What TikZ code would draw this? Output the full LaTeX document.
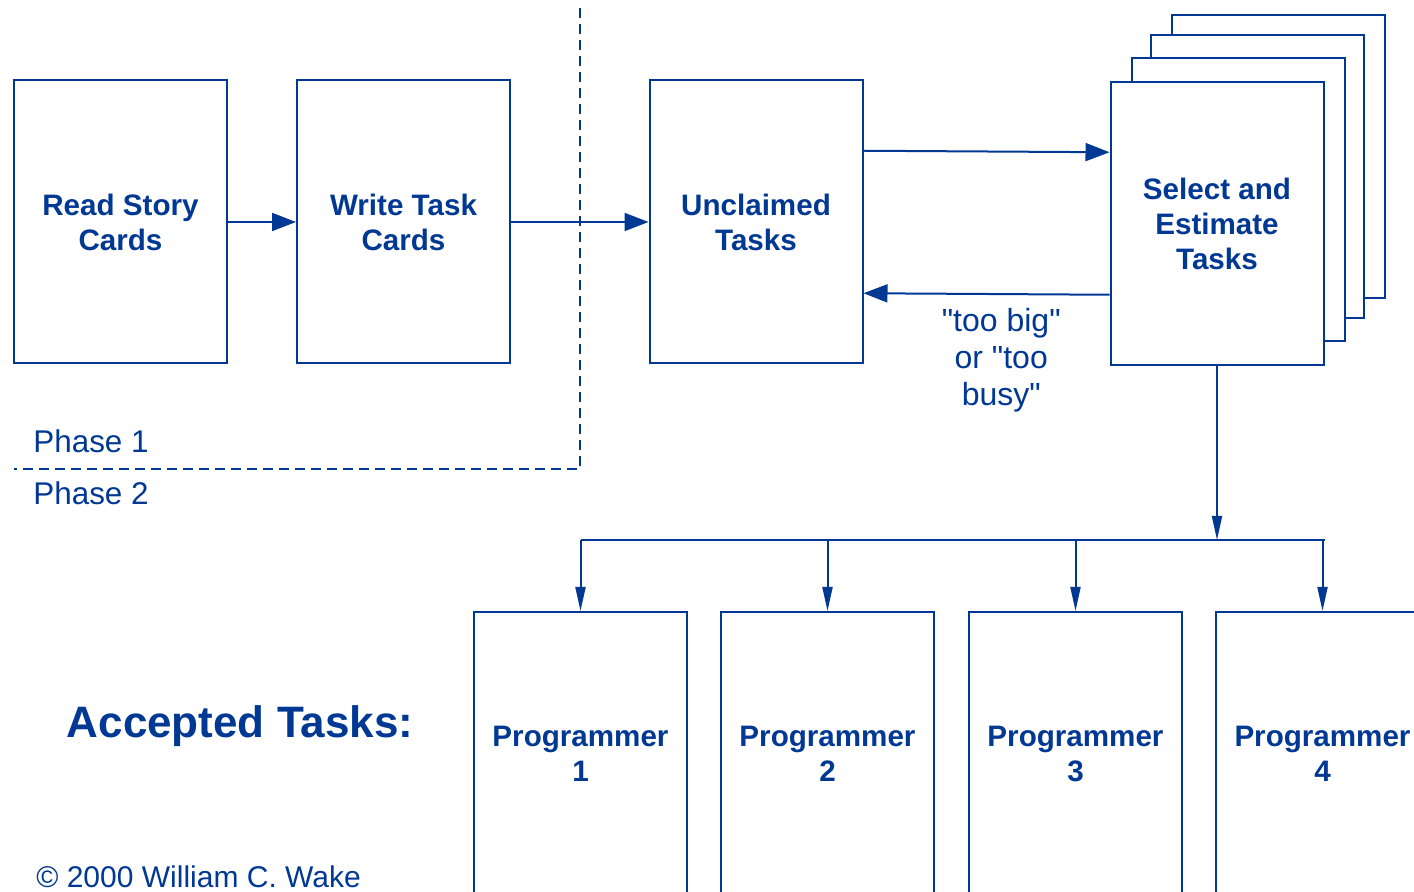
\documentclass[tikz,border=0pt]{standalone}
\usepackage{fontspec}
\setmainfont{Liberation Sans}[Ligatures=TeXOff]
\usetikzlibrary{arrows.meta, calc, positioning}
\definecolor{WakeBlue}{RGB}{0, 56, 147}

\begin{document}
\begin{tikzpicture}[x=0.5pt, y=-0.5pt,
            card/.style={draw=WakeBlue, line width=1pt, fill=white, minimum width=106.5pt, minimum height=141.5pt, inner sep=0pt, align=center, text=WakeBlue, font=\bfseries\fontsize{14.8}{17.5}\selectfont},
            flow/.style={draw=WakeBlue, line width=1pt, -{Triangle[length=12pt, width=9pt]}},
            drop/.style={draw=WakeBlue, line width=1pt, -{Triangle[length=12pt, width=5pt]}},
            phase/.style={draw=WakeBlue, line width=1pt, dash pattern=on 5pt off 3pt},
            lbl/.style={text=WakeBlue, inner sep=0pt, font=\fontsize{15.7}{18}\selectfont}
        ]
        \clip (0,0) rectangle (1414,892);

        % Phase 1 cards
        \node[card] (read) at (120.5,222) {Read Story\\Cards};
        \node[card] (write) at (403.5,222) {Write Task\\Cards};
        \node[card] (unclaimed) at (756,222) {Unclaimed\\Tasks};

        % The stack behind the select card
        \foreach \i/\dx/\dy in {3/61.5/-66, 2/40.5/-46, 1/21.5/-23}
            \node[card] (stack\i) at (1217+\dx,222.5+\dy) {};
        \node[card] (select) at (1217,223.5) {Select and\\Estimate\\Tasks};

        % Programmers
        \foreach \i/\x in {1/580.5, 2/827.5, 3/1075.5, 4/1322.5}
            \node[card] (p\i) at (\x,753.5) {Programmer\\\i};

        % Arrows
        \draw[flow] (read) -- (write);
        \draw[flow] (write) -- (unclaimed);
        \draw[flow] ($(unclaimed.north east)!0.25!(unclaimed.south east)$) -- ($(select.north west)!0.25!(select.south west)$);
        \draw[flow] ($(select.north west)!0.75!(select.south west)$) -- ($(unclaimed.north east)!0.75!(unclaimed.south east)$)
            node[pos=0.44, below=6.5pt, lbl, align=center, font=\fontsize{16}{18.5}\selectfont] (why) {"too big"\\or "too\\busy"};

        \coordinate (fork) at (1217,540);
        \draw[drop] (select) -- (fork);
        \draw[draw=WakeBlue, line width=1pt] (p1.north |- fork) -- ([xshift=1pt]p4.north |- fork);
        \foreach \i in {1,...,4}
            \draw[drop] (p\i.north |- fork) -- (p\i.north);

        % Phase divider
        \draw[phase] (580,8) -- (580,469) -- (14,469);

        % Labels
        \node[lbl, anchor=base west] (ph1) at (33,453) {Phase 1};
        \node[lbl, anchor=base west] (ph2) at (33,505) {Phase 2};
        \node[lbl, anchor=base, font=\bfseries\fontsize{22}{26}\selectfont] (accepted) at (240,738) {Accepted Tasks:};
        \node[lbl, anchor=base west, font=\fontsize{15}{18}\selectfont] (copy) at (36,887) {© 2000 William C. Wake};

        \end{tikzpicture}
\end{document}
